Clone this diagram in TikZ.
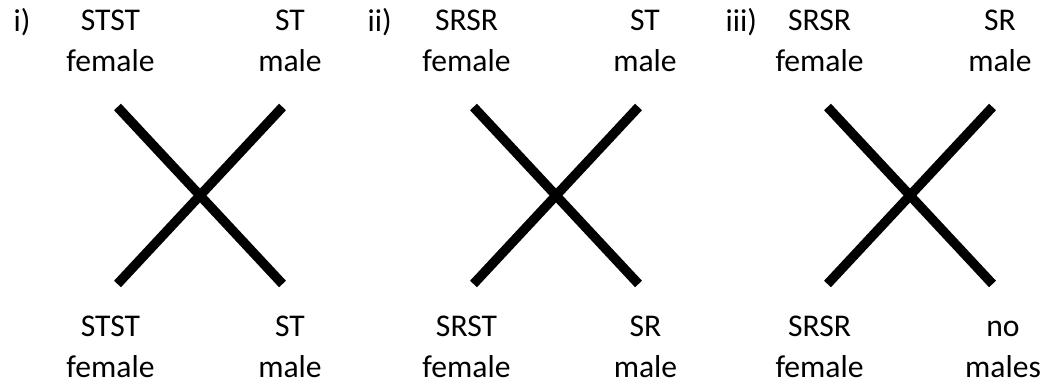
\documentclass[tikz,border=0pt]{standalone}
\usepackage{fontspec}
\setmainfont{Carlito}
\usepackage{tikz}
\tikzset{
  crossline/.style={black, line width=2.7pt},
  geno/.style={align=center, anchor=south, inner sep=0pt, font=\fontsize{9}{11.4}\selectfont},
  panel/.style={anchor=base west, inner sep=0pt, font=\fontsize{9}{11.4}\selectfont}
}

\begin{document}
\begin{tikzpicture}
\useasboundingbox (0,0) rectangle (10.46,3.85);

\node[panel] (lab1) at (0.13,3.53) {i)};
\node[geno] (fa1) at (1.105,3.13) {STST\\female};
\node[geno] (ma1) at (2.90,3.13) {ST\\male};
\node[geno] (fo1) at (1.105,0.07) {STST\\female};
\node[geno] (mo1) at (2.90,0.07) {ST\\male};
\coordinate (tl1) at (1.175,2.78);
\coordinate (tr1) at (2.825,2.78);
\coordinate (bl1) at (1.175,1.01);
\coordinate (br1) at (2.825,1.01);
\draw[crossline] (tl1)--(br1);
\draw[crossline] (tr1)--(bl1);

\node[panel] (lab2) at (3.67,3.53) {ii)};
\node[geno] (fa2) at (4.665,3.13) {SRSR\\female};
\node[geno] (ma2) at (6.45,3.13) {ST\\male};
\node[geno] (fo2) at (4.665,0.07) {SRST\\female};
\node[geno] (mo2) at (6.455,0.07) {SR\\male};
\coordinate (tl2) at (4.735,2.78);
\coordinate (tr2) at (6.385,2.78);
\coordinate (bl2) at (4.735,1.01);
\coordinate (br2) at (6.385,1.01);
\draw[crossline] (tl2)--(br2);
\draw[crossline] (tr2)--(bl2);

\node[panel] (lab3) at (7.25,3.53) {iii)};
\node[geno] (fa3) at (8.195,3.13) {SRSR\\female};
\node[geno] (ma3) at (10.00,3.13) {SR\\male};
\node[geno] (fo3) at (8.195,0.07) {SRSR\\female};
\node[geno] (mo3) at (10.03,0.07) {no\\males};
\coordinate (tl3) at (8.275,2.78);
\coordinate (tr3) at (9.925,2.78);
\coordinate (bl3) at (8.275,1.01);
\coordinate (br3) at (9.925,1.01);
\draw[crossline] (tl3)--(br3);
\draw[crossline] (tr3)--(bl3);
\end{tikzpicture}
\end{document}
